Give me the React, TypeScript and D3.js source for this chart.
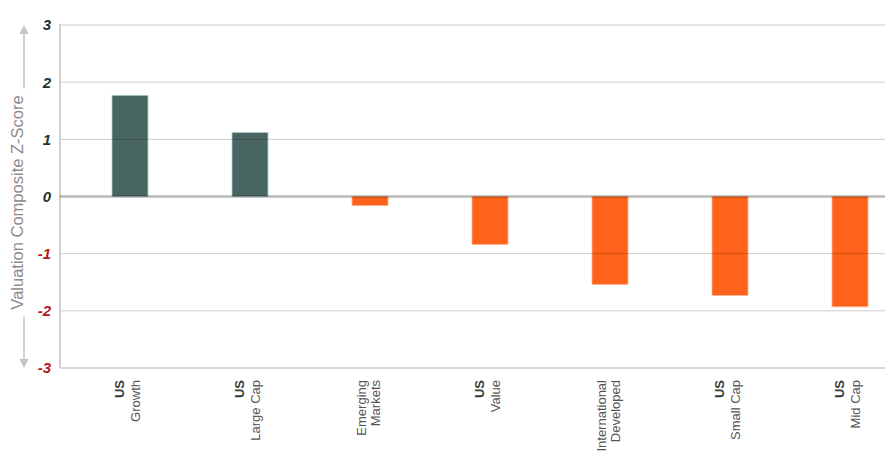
import React from "react";
import * as d3 from "d3";

const categoriesTop = ["US", "US", "Emerging", "US", "International", "US", "US"];
const categoriesBottom = ["Growth", "Large Cap", "Markets", "Value", "Developed", "Small Cap", "Mid Cap"];
const boldTop = [true, true, false, true, false, true, true];
const values = [1.77, 1.12, -0.16, -0.84, -1.54, -1.73, -1.93];
const yTicks = [3, 2, 1, 0, -1, -2, -3];
const yTitle = "Valuation Composite Z-Score";

const W = 891;
const H = 467;
const left = 60;
const right = 885;
const top = 25;
const bottom = 368;

export default function App() {
  const keys = categoriesBottom.map((_, i) => String(i));
  const x = d3.scalePoint<string>().domain(keys).range([130, 850]);
  const y = d3.scaleLinear().domain([-3, 3]).range([bottom, top]);
  const barW = 36;
  const titleCy = y(0) + 6;

  return (
    <svg
      width={W}
      height={H}
      style={{ position: "absolute", left: 0, top: 0, fontFamily: "Arial, 'Liberation Sans', sans-serif" }}
    >
      <rect x={0} y={0} width={W} height={H} fill="#fff" />
      {values.map((v, i) => {
        const x0 = (x(String(i)) as number) - barW / 2;
        const y0 = y(Math.max(0, v));
        const h = Math.abs(y(v) - y(0));
        const pos = v >= 0;
        return (
          <rect
            key={i}
            x={x0}
            y={y0}
            width={barW}
            height={h}
            fill={pos ? "#4a6663" : "#ff621b"}
            stroke={pos ? "#a9d2cf" : "#ffb58f"}
            strokeWidth={0.8}
          />
        );
      })}
      {yTicks.filter((t) => t !== 0 && t !== -3).map((t) => (
        <line key={t} x1={left} x2={right} y1={y(t)} y2={y(t)} stroke="#000" strokeOpacity={0.2} strokeWidth={1} />
      ))}
      <line x1={left} x2={right} y1={bottom} y2={bottom} stroke="#d9d9d9" strokeWidth={2} />
      <line x1={left} x2={left} y1={top - 1} y2={bottom} stroke="#cfcfcf" strokeWidth={2} />
      <line x1={left} x2={right} y1={y(0)} y2={y(0)} stroke="#000" strokeOpacity={0.28} strokeWidth={2.5} />
      {yTicks.map((t) => (
        <text
          key={t}
          x={51}
          y={y(t)}
          dy="0.36em"
          textAnchor="end"
          fontSize={15}
          fontWeight="bold"
          fontStyle="italic"
          fill={t < 0 ? "#b3191e" : "#233330"}
        >
          {t}
        </text>
      ))}
      <line x1={24} x2={24} y1={32} y2={361} stroke="#c4c4c4" strokeWidth={1.5} />
      <path d={`M19.5,34 L24,25 L28.5,34 Z`} fill="#c4c4c4" />
      <path d={`M19.5,359 L24,368 L28.5,359 Z`} fill="#c4c4c4" />
      <rect x={8} y={titleCy - 114} width={20} height={228} fill="#fff" />
      <text
        transform={`translate(22.5,${titleCy}) rotate(-90)`}
        textAnchor="middle"
        fontSize={16.5}
        fill="#8c8c8c"
      >
        {yTitle}
      </text>
      {keys.map((k, i) => {
        const cx = x(k) as number;
        return (
          <g key={k} transform={`translate(${cx},380) rotate(-90)`}>
            <text
              x={0}
              y={boldTop[i] ? -6 : -4}
              textAnchor="end"
              fontSize={13}
              fontWeight={boldTop[i] ? "bold" : "normal"}
              fill={boldTop[i] ? "#3a3a3a" : "#555"}
            >
              {categoriesTop[i]}
            </text>
            <text x={0} y={10} textAnchor="end" fontSize={13} fill="#555">
              {categoriesBottom[i]}
            </text>
          </g>
        );
      })}
    </svg>
  );
}
